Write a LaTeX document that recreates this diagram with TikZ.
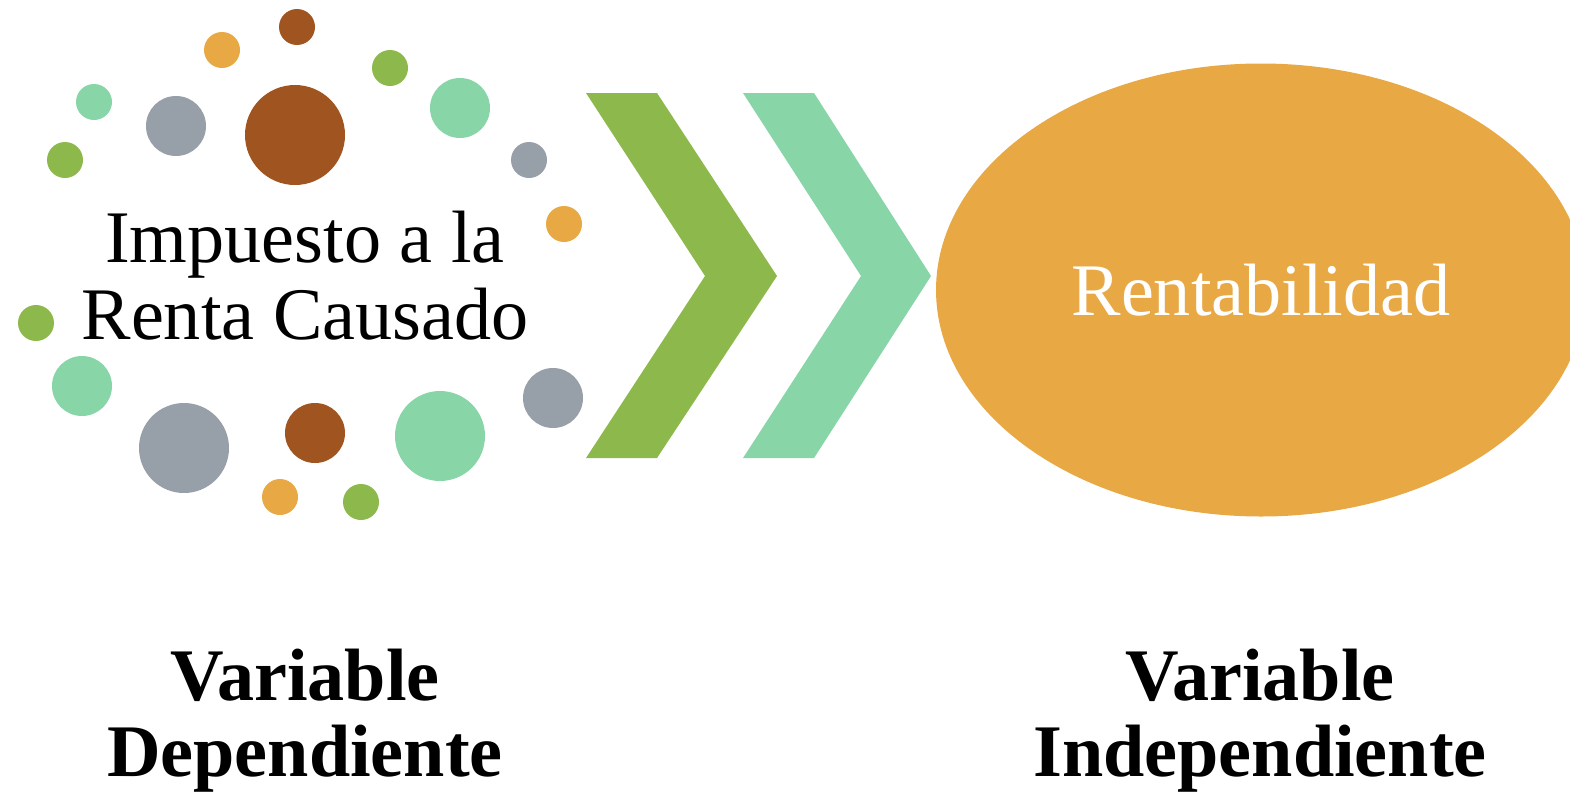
\documentclass[tikz,border=0pt]{standalone}
\usepackage{fontspec}
\setmainfont{Liberation Serif}
\usetikzlibrary{shapes.geometric}
\definecolor{verde}{HTML}{8DB84B}
\definecolor{menta}{HTML}{88D5A8}
\definecolor{cafe}{HTML}{A0541F}
\definecolor{gris}{HTML}{979FA8}
\definecolor{naranja}{HTML}{E8A844}
\begin{document}
\begin{tikzpicture}[x=.1mm,y=-.1mm,
	texto/.style={align=center,font=\fontsize{21.1}{21.9}\selectfont},
	titulo/.style={align=center,font=\fontsize{21.1}{21.6}\selectfont\bfseries}]
	\useasboundingbox(0,0)rectangle(1570,793);
	\clip(0,0)rectangle(1570,793);
	\fill[cafe](297,27)circle(18) (295,135)circle(50) (315,433)circle(30);
	\fill[naranja](222,50)circle(18) (564,224)circle(18) (280,497)circle(18);
	\fill[verde](390,68)circle(18) (65,160)circle(18) (36,323)circle(18) (361,502)circle(18);
	\fill[menta](94,102)circle(18) (460,108)circle(30) (82,386)circle(30) (440,436)circle(45);
	\fill[gris](176,126)circle(30) (529,160)circle(18) (553,398)circle(30) (184,448)circle(45);
	\fill[verde](586,93)--(657,93)--(777,276)--(657,458)--(586,458)--(705,276)--cycle;
	\fill[menta](743,93)--(814,93)--(931,276)--(814,458)--(743,458)--(861,276)--cycle;
	\node[ellipse,fill=naranja,minimum width=65mm,minimum height=45.3mm,inner sep=0,text=white,texto](rent) at (1261,290){Rentabilidad};
	\node[texto](impuesto) at (305,276){Impuesto a la\\Renta Causado};
	\node[titulo](dep) at (305,721){Variable\\Dependiente};
	\node[titulo](indep) at (1260,721){Variable\\Independiente};
\end{tikzpicture}
\end{document}
